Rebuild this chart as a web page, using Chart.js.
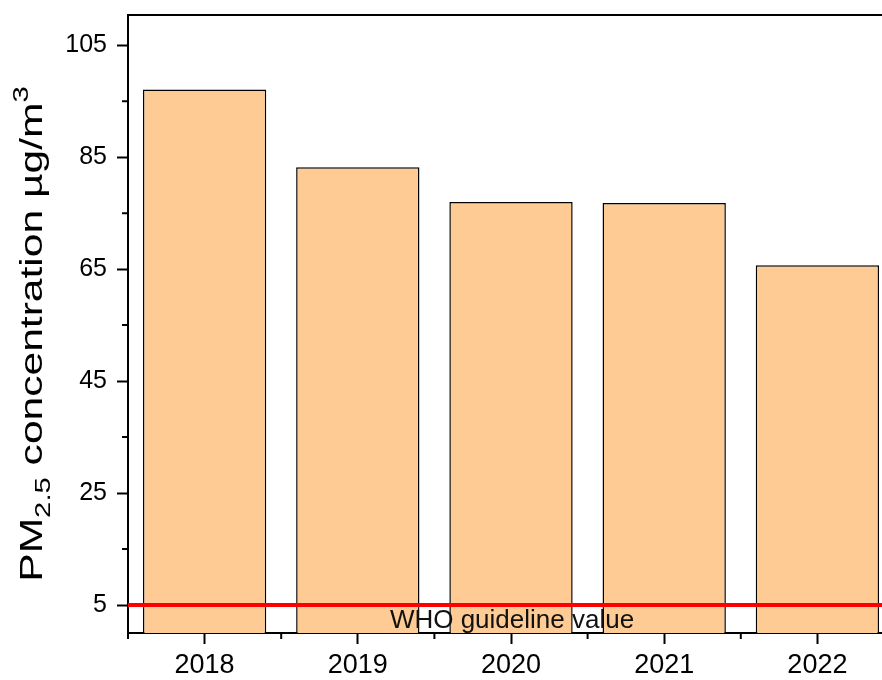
<!DOCTYPE html>
<html>
<head>
<meta charset="utf-8">
<script src="https://cdn.jsdelivr.net/npm/chart.js@4/dist/chart.umd.min.js"></script>
<style>
  html, body { margin: 0; padding: 0; background: #fff; overflow: hidden; }
  #wrap { width: 900px; height: 680px; }
</style>
</head>
<body>
<div id="wrap"><canvas id="pmChart" width="900" height="680"></canvas></div>
<script>
const years = ['2018', '2019', '2020', '2021', '2022'];
const pm25 = [97.1, 83.2, 77.0, 76.8, 65.7];
const yTicks = [5, 25, 45, 65, 85, 105];
const yMinorTicks = [15, 35, 55, 75, 95];
const whoGuideline = 5;
const whoLabel = 'WHO guideline value';

const fontFam = '"Liberation Sans", Arial, sans-serif';

// frame, minor ticks, WHO line and the y title with sub/superscript
const extras = {
  id: 'extras',
  afterDatasetsDraw(chart) {
    const ctx = chart.ctx, area = chart.chartArea;
    const y = chart.scales.y;
    const yw = y.getPixelForValue(whoGuideline);
    ctx.save();
    ctx.strokeStyle = '#ff0000';
    ctx.lineWidth = 4;
    ctx.beginPath();
    ctx.moveTo(area.left, yw);
    ctx.lineTo(area.right, yw);
    ctx.stroke();
    ctx.fillStyle = '#111';
    ctx.font = '26px ' + fontFam;
    ctx.textAlign = 'center';
    ctx.textBaseline = 'alphabetic';
    ctx.fillText(whoLabel, 512, yw + 23);
    ctx.restore();
  },
  afterDraw(chart) {
    const ctx = chart.ctx, area = chart.chartArea;
    const x = chart.scales.x, y = chart.scales.y;
    ctx.save();
    ctx.strokeStyle = '#000';
    ctx.lineWidth = 2;
    // top frame line
    ctx.beginPath();
    ctx.moveTo(area.left, area.top);
    ctx.lineTo(area.right, area.top);
    ctx.stroke();
    // minor ticks
    ctx.beginPath();
    yMinorTicks.forEach(v => {
      const p = y.getPixelForValue(v);
      ctx.moveTo(area.left - 6, p);
      ctx.lineTo(area.left, p);
    });
    for (let i = 0; i <= years.length; i++) {
      const p = x.getPixelForValue(i - 0.5);
      ctx.moveTo(p, area.bottom);
      ctx.lineTo(p, area.bottom + 6);
    }
    ctx.stroke();

    // y axis title
    const parts = [
      { t: 'PM', size: 32, dy: 0 },
      { t: '2.5', size: 22, dy: 8 },
      { t: ' concentration µg/m', size: 32, dy: 0 },
      { t: '3', size: 22, dy: -14 }
    ];
    let total = 0;
    parts.forEach(p => {
      ctx.font = p.size + 'px ' + fontFam;
      p.w = ctx.measureText(p.t).width;
      total += p.w;
    });
    ctx.translate(42, 334);
    ctx.rotate(-Math.PI / 2);
    ctx.scale(1.33, 1);
    ctx.fillStyle = '#000';
    ctx.textBaseline = 'alphabetic';
    ctx.textAlign = 'left';
    let cx = -total / 2;
    parts.forEach(p => {
      ctx.font = p.size + 'px ' + fontFam;
      ctx.fillText(p.t, cx, p.dy);
      cx += p.w;
    });
    ctx.restore();
  }
};

const ctx = document.getElementById('pmChart').getContext('2d');
const pmChart = new Chart(ctx, {
  type: 'bar',
  data: {
    labels: years,
    datasets: [{
      label: 'PM2.5',
      data: pm25,
      backgroundColor: '#fecb94',
      borderColor: '#000',
      borderWidth: 1.5,
      barPercentage: 0.805,
      categoryPercentage: 1
    }]
  },
  options: {
    responsive: false,
    animation: false,
    devicePixelRatio: 1,
    layout: { padding: { left: 0, right: 6, top: 15, bottom: 0 } },
    plugins: {
      legend: { display: false },
      tooltip: { enabled: false }
    },
    scales: {
      x: {
        offset: true,
        border: { color: '#000', width: 2 },
        grid: {
          offset: false,
          drawOnChartArea: false,
          tickLength: 11,
          tickWidth: 2,
          tickColor: '#000'
        },
        ticks: {
          color: '#000',
          padding: 5,
          font: { family: fontFam, size: 27 }
        },
        afterFit(scale) {
          scale.height = 47;
          scale.paddingLeft = 0;
          scale.paddingRight = 0;
        }
      },
      y: {
        min: 0,
        max: 110.4,
        border: { color: '#000', width: 2 },
        grid: {
          drawOnChartArea: false,
          tickLength: 11,
          tickWidth: 2,
          tickColor: '#000'
        },
        ticks: {
          color: '#000',
          padding: 10,
          font: { family: fontFam, size: 25 }
        },
        afterBuildTicks(scale) {
          scale.ticks = yTicks.map(v => ({ value: v }));
        },
        afterFit(scale) {
          scale.width = 128;
          scale.paddingTop = 0;
          scale.paddingBottom = 0;
        }
      }
    }
  },
  plugins: [extras]
});
</script>
</body>
</html>
